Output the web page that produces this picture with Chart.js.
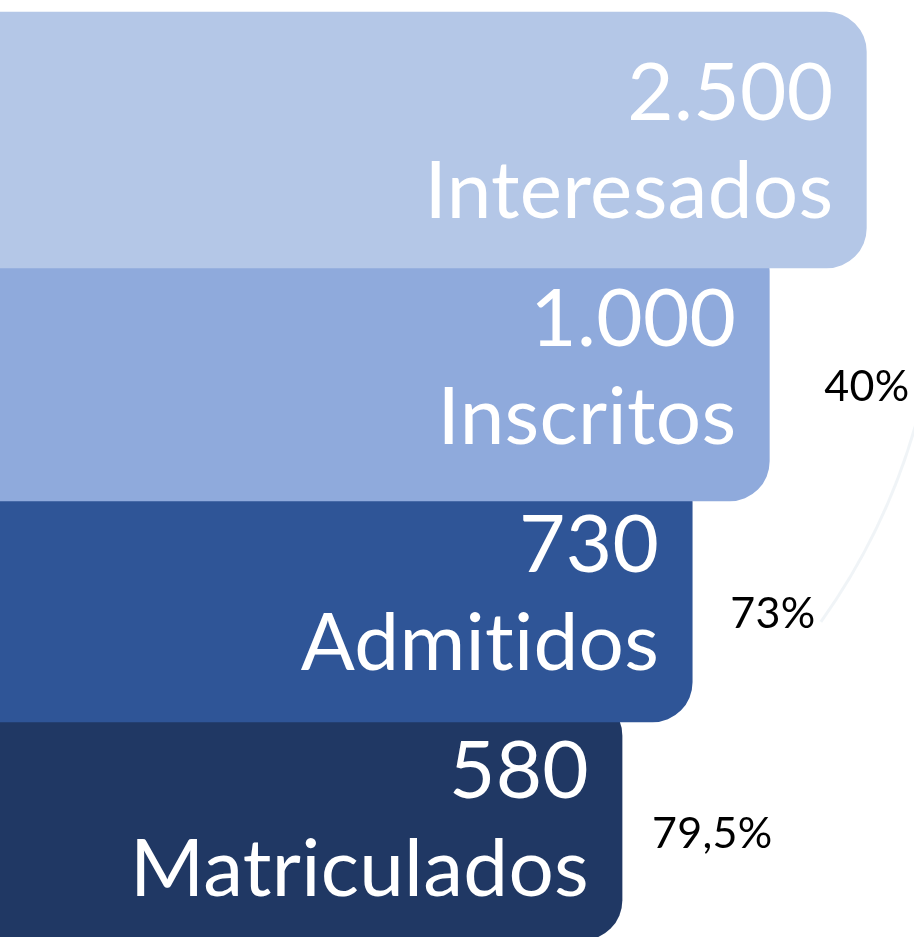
<!DOCTYPE html>
<html>
<head>
<meta charset="utf-8">
<script src="https://cdn.jsdelivr.net/npm/chart.js@4/dist/chart.umd.min.js"></script>
<style>
  html, body { margin: 0; padding: 0; background: #fff; }
  #wrap { width: 914px; height: 937px; position: relative; overflow: hidden; }
</style>
</head>
<body>
<div id="wrap"><canvas id="funnel" width="914" height="937"></canvas></div>
<script>
// funnel stages, top to bottom
const stages = ['Interesados', 'Inscritos', 'Admitidos', 'Matriculados'];
const counts = [2500, 1000, 730, 580];
// step-to-step conversion (%)
const conversion = [null, 40, 73, 79.5];
// drawn length of each funnel step, relative to the first one (=100)
const funnelWidth = [100, 88.8, 79.9, 71.8];

const colors = ['#b4c7e7', '#8faadc', '#2f5597', '#203864'];
const thickness = [256, 270, 260, 244];

function fmtCount(n) {
    return String(n).replace(/\B(?=(\d{3})+(?!\d))/g, '.');
}
function fmtPct(p) {
    return String(p).replace('.', ',') + '%';
}

// faint background arc on the right
const backdrop = {
    id: 'backdrop',
    beforeDraw(chart) {
        const ctx = chart.ctx;
        ctx.save();
        ctx.strokeStyle = 'rgba(150, 180, 200, 0.14)';
        ctx.lineWidth = 3;
        ctx.beginPath();
        ctx.arc(300, 250, 640, -0.12, 0.62);
        ctx.stroke();
        ctx.restore();
    }
};

const labelPlugin = {
    id: 'funnelLabels',
    afterDatasetsDraw(chart) {
        const ctx = chart.ctx;
        const pctDx = [0, 55, 38, 30];
        const pctDy = [0, 35, 36, 30];
        ctx.save();
        // no "ti" ligature (Calibri-like look)
        if ('letterSpacing' in ctx) ctx.letterSpacing = '0.3px';
        stages.forEach((name, i) => {
            const el = chart.getDatasetMeta(i).data[i];
            if (!el) return;
            ctx.fillStyle = '#ffffff';
            ctx.textAlign = 'right';
            ctx.textBaseline = 'alphabetic';
            ctx.font = '80px Lato';
            ctx.fillText(fmtCount(counts[i]), el.x - 33, el.y - 20);
            ctx.fillText(name, el.x - 33, el.y + 78);
            if (conversion[i] != null) {
                ctx.fillStyle = '#000000';
                ctx.textAlign = 'left';
                ctx.font = '43px Lato';
                ctx.fillText(fmtPct(conversion[i]), el.x + pctDx[i], el.y + pctDy[i]);
            }
        });
        ctx.restore();
    }
};

const datasets = stages.map((name, i) => ({
    label: name,
    data: funnelWidth.map((w, j) => (j === i ? w : null)),
    backgroundColor: colors[i],
    borderWidth: 0,
    borderSkipped: 'start',
    borderRadius: { topLeft: 0, bottomLeft: 0, topRight: 40, bottomRight: 40 },
    barThickness: thickness[i],
    grouped: false,
    clip: false,
    order: i
}));

new Chart(document.getElementById('funnel'), {
    type: 'bar',
    data: { labels: stages, datasets: datasets },
    options: {
        indexAxis: 'y',
        responsive: false,
        animation: false,
        layout: { padding: { top: 27, bottom: 6, left: 0, right: 0 } },
        scales: {
            x: { display: false, min: 0, max: 105.5 },
            y: { display: false }
        },
        plugins: {
            legend: { display: false },
            tooltip: { enabled: false }
        }
    },
    plugins: [backdrop, labelPlugin]
});
</script>
</body>
</html>
